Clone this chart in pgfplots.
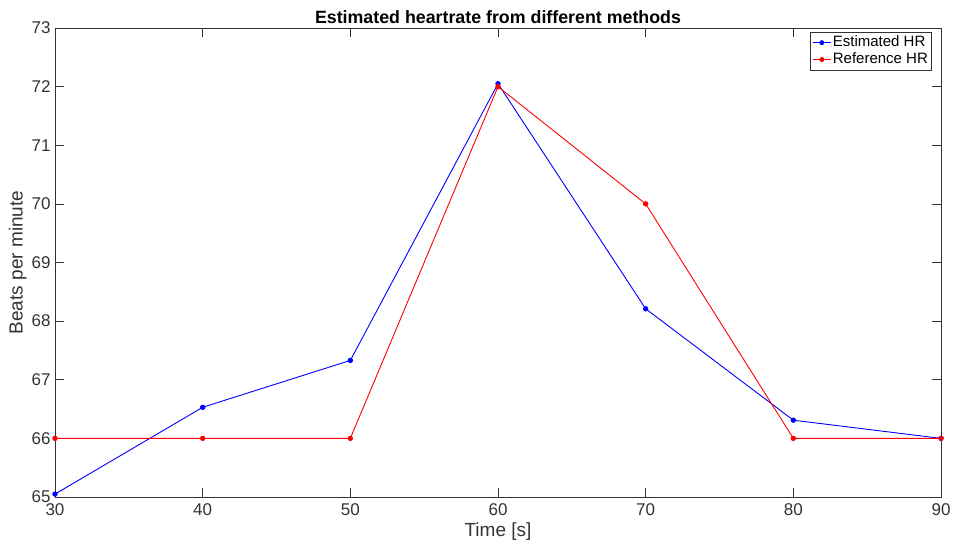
\documentclass[border=0pt]{standalone}
\usepackage{pgfplots}
\pgfplotsset{compat=1.18}
\usepackage{fontspec}
\setmainfont{Liberation Sans}
\begin{document}
\fontsize{16}{19}\selectfont
\begin{tikzpicture}
\begin{axis}[
  name=ax,
  scale only axis,
  width=886pt, height=469pt,
  xmin=30, xmax=90, ymin=65, ymax=73,
  xtick={30,40,...,90}, ytick={65,66,...,73},
  /pgf/number format/assume math mode=true,
  tick label style={font=\fontsize{17}{20}\selectfont, color=black!80},
  label style={font=\fontsize{19}{22}\selectfont, color=black!80},
  xticklabel style={yshift=-1pt},
  yticklabel style={xshift=1pt},
  xlabel={Time [s]}, ylabel={Beats per minute},
  xlabel style={yshift=4pt}, ylabel style={yshift=-6pt},
  title={\bfseries Estimated heartrate from different methods},
  title style={font=\fontsize{17.8}{20}\selectfont, yshift=-7pt},
  axis line style={black!80, line width=0.6pt},
  tick style={black!80, line width=0.6pt},
  major tick length=9pt,
  tick align=inside,
  xtick pos=both, ytick pos=both,
  legend style={at={(0.9898,0.9915)}, anchor=north east, font=\fontsize{15}{18}\selectfont,
    draw=black!80, line width=0.5pt, inner sep=2pt, row sep=0pt,
    nodes={inner sep=1.8pt}},
  legend cell align=left,
  legend image code/.code={\draw[#1] (0cm,0cm) -- (0.62cm,0cm); \fill[#1] (0.31cm,0cm) circle (2pt);},
]
\addplot[blue, line width=0.9pt, mark=*, mark size=2.2pt] coordinates {
 (30,65.05) (40,66.53) (50,67.33) (60,72.05) (70,68.21) (80,66.31) (90,66.0)
};
\addlegendentry{Estimated HR}
\addplot[red, line width=0.9pt, mark=*, mark size=2.2pt] coordinates {
 (30,66) (40,66) (50,66) (60,72) (70,70) (80,66) (90,66)
};
\addlegendentry{Reference HR}
\end{axis}
\pgfresetboundingbox
\path ([xshift=-55pt,yshift=-51pt]ax.south west) rectangle ([xshift=14pt,yshift=28pt]ax.north east);
\end{tikzpicture}
\end{document}
